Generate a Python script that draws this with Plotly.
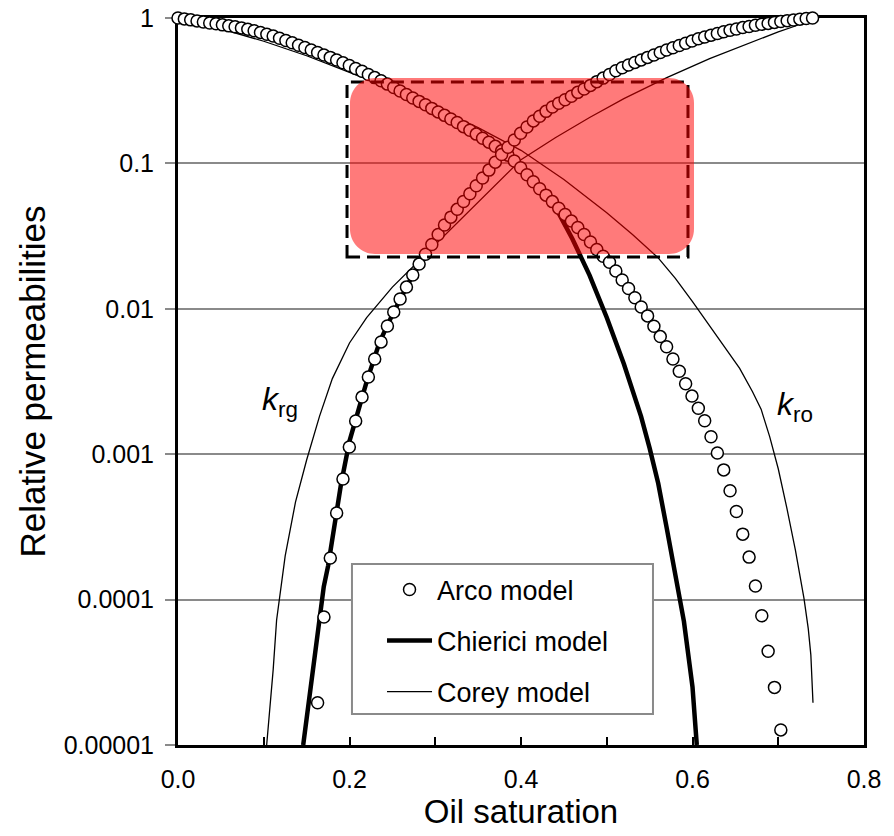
import plotly.graph_objects as go

# ---------------- data ----------------
arco_so = [0, 0.0074, 0.0148, 0.0222, 0.0296, 0.037, 0.0444, 0.0518, 0.0592, 0.0666,
           0.074, 0.0814, 0.0888, 0.0962, 0.1036, 0.111, 0.1184, 0.1258, 0.1332, 0.1406,
           0.148, 0.1554, 0.1628, 0.1702, 0.1776, 0.185, 0.1924, 0.1998, 0.2072, 0.2146,
           0.222, 0.2294, 0.2368, 0.2442, 0.2516, 0.259, 0.2664, 0.2738, 0.2812, 0.2886,
           0.296, 0.3034, 0.3108, 0.3182, 0.3256, 0.333, 0.3404, 0.3478, 0.3552, 0.3626,
           0.37, 0.3774, 0.3848, 0.3922, 0.3996, 0.407, 0.4144, 0.4218, 0.4292, 0.4366,
           0.444, 0.4514, 0.4588, 0.4662, 0.4736, 0.481, 0.4884, 0.4958, 0.5032, 0.5106,
           0.518, 0.5254, 0.5328, 0.5402, 0.5476, 0.555, 0.5624, 0.5698, 0.5772, 0.5846,
           0.592, 0.5994, 0.6068, 0.6142, 0.6216, 0.629, 0.6364, 0.6438, 0.6512, 0.6586,
           0.666, 0.6734, 0.6808, 0.6882, 0.6956, 0.703, 0.7104, 0.7178, 0.7252, 0.7326,
           0.74]

# Arco model, k_ro (first 96 saturations)
arco_kro = [1.000, 0.986, 0.971, 0.955, 0.938, 0.925, 0.912, 0.897, 0.883, 0.871,
            0.855, 0.838, 0.817, 0.796, 0.774, 0.752, 0.726, 0.700, 0.675, 0.650,
            0.627, 0.603, 0.579, 0.557, 0.536, 0.514, 0.492, 0.471, 0.450, 0.430,
            0.409, 0.389, 0.370, 0.351, 0.333, 0.315, 0.298, 0.282, 0.267, 0.253,
            0.239, 0.226, 0.214, 0.202, 0.191, 0.179, 0.169, 0.159, 0.149, 0.140,
            0.131, 0.122, 0.114, 0.104, 0.0933, 0.0836, 0.0748, 0.0670, 0.0605, 0.0546,
            0.0492, 0.0445, 0.0401, 0.0362, 0.0324, 0.0288, 0.0256, 0.0230, 0.0209, 0.0182,
            0.0158, 0.0138, 0.0119, 0.0103, 0.00894, 0.00759, 0.00644, 0.00548, 0.00452, 0.00372,
            0.00305, 0.00251, 0.00207, 0.00170, 0.00132, 0.00102, 0.000780, 0.000561, 0.000404, 0.000282,
            0.000196, 0.000124, 0.0000774, 0.0000441, 0.0000249, 0.0000127]

# Arco model, k_rg (saturations from index 22 on)
arco_krg = [1.95e-5, 7.59e-5, 1.93e-4, 3.94e-4, 6.76e-4, 1.12e-3, 1.69e-3, 2.47e-3,
            3.40e-3, 4.52e-3, 5.92e-3, 7.62e-3, 9.51e-3, 0.01167, 0.0141, 0.0171,
            0.0203, 0.0237, 0.0277, 0.0324, 0.0377, 0.0427, 0.0483, 0.0547, 0.0619,
            0.0701, 0.0794, 0.0899, 0.102, 0.115, 0.129, 0.145, 0.161, 0.178, 0.196,
            0.211, 0.228, 0.244, 0.259, 0.274, 0.290, 0.308, 0.325, 0.344, 0.365,
            0.386, 0.409, 0.434, 0.455, 0.475, 0.495, 0.515, 0.536, 0.557, 0.579,
            0.603, 0.624, 0.647, 0.670, 0.695, 0.720, 0.741, 0.762, 0.782, 0.804,
            0.824, 0.841, 0.859, 0.875, 0.891, 0.906, 0.918, 0.933, 0.946, 0.959,
            0.970, 0.982, 0.991, 1.000]

# Chierici model
che_kro_so = [0, 0.05, 0.10, 0.15, 0.20, 0.25, 0.30, 0.35, 0.38, 0.40, 0.42, 0.44,
              0.46, 0.48, 0.50, 0.52, 0.54, 0.55, 0.56, 0.57, 0.58, 0.59, 0.60, 0.605]
che_kro = [1.0, 0.88, 0.765, 0.60, 0.452, 0.322, 0.225, 0.152, 0.118, 0.0925, 0.0692, 0.0501,
           0.0302, 0.0170, 0.00871, 0.00417, 0.00182, 0.00110, 0.000631, 0.000309,
           0.000151, 0.0000708, 0.0000251, 0.0000100]
che_krg_so = [0.146, 0.150, 0.155, 0.160, 0.165, 0.170, 0.175, 0.180, 0.185, 0.190,
              0.200, 0.210, 0.220, 0.235, 0.25, 0.27, 0.29, 0.31, 0.33, 0.35,
              0.37, 0.40, 0.43, 0.46, 0.50, 0.55, 0.60, 0.65, 0.70, 0.74]
che_krg = [1.0e-5, 1.51e-5, 2.63e-5, 4.68e-5, 7.76e-5, 1.23e-4, 1.70e-4, 2.53e-4, 4.17e-4, 6.17e-4,
           1.23e-3, 1.95e-3, 3.16e-3, 5.89e-3, 9.12e-3, 0.0155, 0.0245, 0.0363, 0.0513, 0.0724,
           0.100, 0.155, 0.224, 0.295, 0.389, 0.513, 0.661, 0.794, 0.912, 1.0]

# Corey model
cor_kro_so = [0, 0.05, 0.10, 0.15, 0.20, 0.25, 0.30, 0.35, 0.40, 0.45, 0.50, 0.53, 0.56,
              0.58, 0.60, 0.62, 0.64, 0.655, 0.67, 0.68, 0.69, 0.70, 0.71, 0.72, 0.73,
              0.735, 0.738, 0.7405]
cor_kro = [1.0, 0.841, 0.692, 0.550, 0.422, 0.324, 0.240, 0.176, 0.123, 0.0776, 0.0457, 0.0324,
           0.0224, 0.0162, 0.0112, 0.00767, 0.00525, 0.00389, 0.00269, 0.00204, 0.00132,
           0.000794, 0.000427, 0.000219, 0.000102, 0.0000631, 0.0000417, 0.0000195]
cor_krg_so = [0.1034, 0.107, 0.111, 0.115, 0.125, 0.137, 0.150, 0.165, 0.18, 0.20, 0.22,
              0.25, 0.28, 0.31, 0.34, 0.37, 0.40, 0.44, 0.48, 0.52, 0.57, 0.62, 0.66, 0.70,
              0.72, 0.74]
cor_krg = [1.0e-5, 1.74e-5, 3.3e-5, 7.24e-5, 2.0e-4, 4.68e-4, 9.12e-4, 1.82e-3, 3.31e-3,
           5.82e-3, 8.71e-3, 0.0141, 0.0211, 0.0316, 0.0479, 0.0708, 0.106, 0.150, 0.207,
           0.279, 0.389, 0.525, 0.649, 0.803, 0.881, 1.0]

y_tickvals = [1e-5, 1e-4, 1e-3, 1e-2, 1e-1, 1]
y_ticktext = ["0.00001", "0.0001", "0.001", "0.01", "0.1", "1"]

# ---------------- figure ----------------
FONT = "Arial, Liberation Sans, sans-serif"
fig = go.Figure()

thin = dict(color="black", width=1.3)
thick = dict(color="black", width=4.5)

fig.add_trace(go.Scatter(x=cor_kro_so, y=cor_kro, mode="lines", line=thin,
                         name="Corey model", legendgroup="corey", legendrank=3))
fig.add_trace(go.Scatter(x=cor_krg_so, y=cor_krg, mode="lines", line=thin,
                         legendgroup="corey", showlegend=False))
fig.add_trace(go.Scatter(x=che_kro_so, y=che_kro, mode="lines", line=thick,
                         name="Chierici model", legendgroup="chierici", legendrank=2))
fig.add_trace(go.Scatter(x=che_krg_so, y=che_krg, mode="lines", line=thick,
                         legendgroup="chierici", showlegend=False))
mk = dict(symbol="circle", size=12, color="white", line=dict(color="black", width=1.5))
fig.add_trace(go.Scatter(x=arco_so[:len(arco_kro)], y=arco_kro, mode="markers", marker=mk,
                         cliponaxis=False, name="Arco model", legendgroup="arco", legendrank=1))
fig.add_trace(go.Scatter(x=arco_so[len(arco_so) - len(arco_krg):], y=arco_krg, mode="markers",
                         marker=mk, cliponaxis=False, legendgroup="arco", showlegend=False))


def rounded_rect(x0, y0, x1, y1, rx, ry):
    k = 0.4477
    return (f"M {x0+rx},{y0} L {x1-rx},{y0} C {x1-rx*k},{y0} {x1},{y0+ry*k} {x1},{y0+ry} "
            f"L {x1},{y1-ry} C {x1},{y1-ry*k} {x1-rx*k},{y1} {x1-rx},{y1} "
            f"L {x0+rx},{y1} C {x0+rx*k},{y1} {x0},{y1-ry*k} {x0},{y1-ry} "
            f"L {x0},{y0+ry} C {x0},{y0+ry*k} {x0+rx*k},{y0} {x0+rx},{y0} Z")


shapes = [
    # legend box
    dict(type="rect", xref="paper", yref="paper", x0=0.2536, x1=0.6924, y0=0.0426, y1=0.2490,
         fillcolor="white", line=dict(color="#8a8a8a", width=2), layer="above"),
    # dashed highlight
    dict(type="rect", xref="paper", yref="paper", x0=0.2464, x1=0.7434, y0=0.6713, y1=0.9120,
         fillcolor="rgba(0,0,0,0)", line=dict(color="black", width=3, dash="13px,7px"), layer="above"),
    # red rounded highlight
    dict(type="path", xref="paper", yref="paper",
         path=rounded_rect(0.2507, 0.6754, 0.7522, 0.9175, 25 / 686, 25 / 727),
         fillcolor="rgba(255,0,0,0.52)", line=dict(width=0), layer="above"),
]

annotations = [
    dict(x=0.119, y=-2.64, xref="x", yref="y", showarrow=False,
         text="<i>k</i><sub>rg</sub>", font=dict(family=FONT, size=32, color="black")),
    dict(x=0.719, y=-2.67, xref="x", yref="y", showarrow=False,
         text="<i>k</i><sub>ro</sub>", font=dict(family=FONT, size=32, color="black")),
]

fig.update_layout(
    width=894, height=836,
    margin=dict(l=178, r=30, t=18, b=91, autoexpand=False),
    plot_bgcolor="white", paper_bgcolor="white",
    font=dict(family=FONT, color="black", size=25),
    shapes=shapes, annotations=annotations,
    showlegend=True,
    legend=dict(x=0.2974, y=0.247, xanchor="left", yanchor="top",
                bgcolor="rgba(0,0,0,0)", borderwidth=0,
                traceorder="grouped", tracegroupgap=13, itemwidth=45,
                font=dict(family=FONT, size=27, color="black")),
    xaxis=dict(range=[0, 0.8], tick0=0, dtick=0.2, tickformat=".1f",
               ticks="inside", ticklen=8, tickwidth=1.5, tickcolor="black",
               minor=dict(dtick=0.1, ticks="inside", ticklen=8, tickwidth=1.5,
                          tickcolor="black", showgrid=False),
               showgrid=False, zeroline=False, showline=True, linecolor="black",
               linewidth=3, mirror=True, layer="below traces",
               ticklabelstandoff=10, tickfont=dict(size=25),
               title=dict(text="Oil saturation", font=dict(size=33), standoff=8)),
    yaxis=dict(type="log", range=[-5, 0], tickvals=y_tickvals, ticktext=y_ticktext,
               ticks="outside", ticklen=10, tickwidth=2, tickcolor="#8a8a8a",
               showgrid=True, gridcolor="#8a8a8a", gridwidth=2,
               zeroline=False, showline=True, linecolor="black", linewidth=3,
               mirror=True, layer="below traces", ticklabelstandoff=6,
               tickfont=dict(size=25),
               title=dict(text="Relative permeabilities", font=dict(size=35), standoff=8)),
)

fig.write_html("out.html")
